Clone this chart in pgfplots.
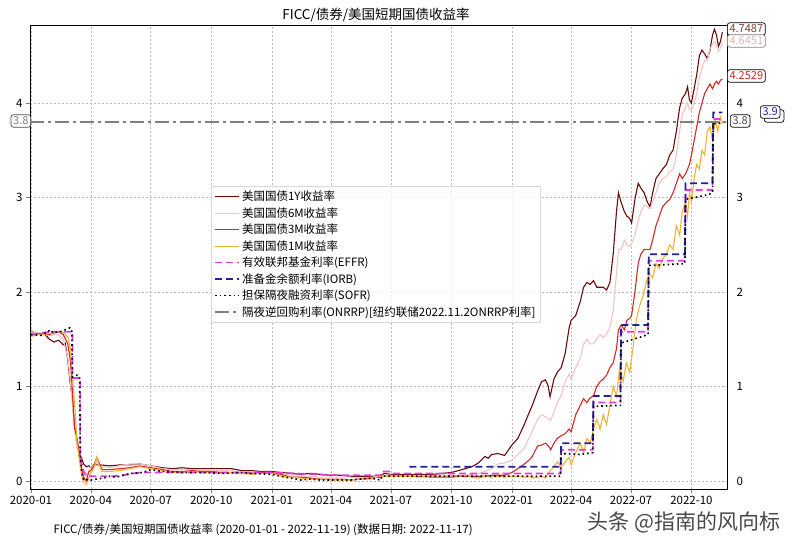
\documentclass[border=0pt]{standalone}
\usepackage{fontspec}
\setmainfont{Noto Sans CJK SC}
\usepackage{pgfplots}
\pgfplotsset{compat=1.18}
\definecolor{c1y}{rgb}{0.42,0.04,0.04}
\definecolor{c6m}{rgb}{0.95,0.77,0.77}
\definecolor{c3m}{rgb}{0.83,0.16,0.16}
\definecolor{c1m}{rgb}{0.95,0.70,0.20}
\definecolor{ceffr}{rgb}{0.88,0.24,0.88}
\definecolor{ciorb}{rgb}{0.13,0.13,0.60}
\definecolor{conrrp}{rgb}{0.50,0.50,0.50}
\begin{document}
\begin{tikzpicture}
\useasboundingbox (0,0) rectangle (795pt,549pt);
\begin{axis}[
 at={(30pt,60pt)}, anchor=south west, width=697pt, height=464pt, scale only axis,
 xmin=-1.5, xmax=1058, ymin=-0.085, ymax=4.825,
 xtick={0,91,182,274,366,456,547,639,731,821,912,1004},
 xticklabels={2020-01,2020-04,2020-07,2020-10,2021-01,2021-04,2021-07,2021-10,2022-01,2022-04,2022-07,2022-10},
 ytick={0,1,2,3,4},
 tick label style={font=\fontsize{11.5}{13}\selectfont},
 /pgf/number format/assume math mode=true,
 grid=major, major grid style={gray!55, dash pattern=on 2pt off 2pt, line width=0.5pt},
 tick align=outside, tick pos=left, major tick length=4pt,
 axis line style={line width=0.9pt},
 legend style={at={(0.2597,0.653)}, anchor=north west, font=\fontsize{11.5}{13}\selectfont,
   draw=gray!30, fill=white, fill opacity=0.8, text opacity=1, row sep=1.2pt, inner sep=3pt},
 legend cell align=left,
 legend image code/.code={\draw[#1] (0pt,0pt) -- (24pt,0pt);},
]
% 1Y
\addplot[c1y, line width=1.1pt] coordinates {
(0,1.59)(7,1.56)(14,1.56)(21,1.55)(28,1.50)(35,1.47)(42,1.49)(49,1.44)(52,1.46)(56,1.28)(59,1.07)(63,0.86)(66,0.60)(70,0.41)(74,0.28)(77,0.24)(80,0.18)(84,0.15)(88,0.16)(91,0.14)(95,0.17)(105,0.17)(120,0.16)(135,0.17)(150,0.17)(165,0.18)(182,0.16)(200,0.14)(215,0.13)(230,0.14)(245,0.13)(260,0.13)(275,0.13)(290,0.13)(305,0.13)(320,0.11)(335,0.11)(350,0.10)(366,0.10)(380,0.09)(395,0.08)(410,0.07)(425,0.08)(440,0.07)(456,0.06)(470,0.06)(486,0.05)(500,0.05)(517,0.05)(530,0.05)(537,0.08)(547,0.07)(560,0.07)(575,0.07)(590,0.07)(610,0.07)(625,0.08)(639,0.09)(650,0.11)(660,0.13)(670,0.15)(680,0.19)(690,0.26)(695,0.24)(700,0.28)(710,0.29)(720,0.27)(731,0.38)(740,0.45)(750,0.60)(757,0.72)(762,0.80)(770,0.95)(776,1.05)(782,1.07)(786,1.01)(789,0.89)(795,1.08)(800,1.15)(806,1.20)(812,1.35)(818,1.62)(821,1.70)(828,1.75)(835,1.90)(840,2.05)(845,2.10)(850,2.08)(855,2.12)(860,2.05)(865,2.05)(870,2.05)(875,2.02)(880,2.10)(885,2.40)(890,2.85)(893,3.05)(897,2.95)(902,2.85)(906,2.80)(910,2.78)(913,2.73)(918,2.98)(923,3.15)(927,3.10)(932,3.05)(937,2.95)(941,2.90)(945,3.05)(950,3.20)(955,3.25)(960,3.30)(966,3.35)(971,3.45)(976,3.50)(981,3.70)(986,3.95)(990,4.05)(995,4.10)(998,4.17)(1001,4.03)(1004,4.00)(1008,4.15)(1012,4.30)(1016,4.50)(1020,4.56)(1024,4.52)(1028,4.47)(1032,4.55)(1036,4.72)(1039,4.78)(1042,4.72)(1045,4.60)(1048,4.65)(1051,4.7487)};
\addlegendentry{美国国债1Y收益率}
% 6M
\addplot[c6m, line width=1.1pt] coordinates {
(0,1.58)(14,1.56)(28,1.54)(42,1.55)(49,1.50)(56,1.30)(60,1.05)(63,0.80)(66,0.55)(70,0.35)(74,0.28)(77,0.15)(80,0.07)(84,0.05)(88,0.10)(91,0.15)(95,0.16)(100,0.20)(105,0.16)(120,0.14)(135,0.16)(150,0.18)(165,0.18)(182,0.16)(200,0.13)(215,0.12)(230,0.12)(245,0.12)(260,0.11)(275,0.11)(290,0.11)(305,0.11)(320,0.09)(335,0.09)(350,0.09)(366,0.09)(380,0.08)(395,0.06)(410,0.04)(425,0.05)(440,0.04)(456,0.04)(470,0.04)(486,0.04)(500,0.03)(517,0.04)(530,0.05)(537,0.06)(547,0.06)(560,0.05)(575,0.05)(590,0.05)(610,0.05)(625,0.05)(639,0.05)(650,0.06)(660,0.06)(670,0.07)(680,0.08)(690,0.10)(700,0.13)(710,0.18)(720,0.19)(731,0.22)(740,0.28)(750,0.35)(757,0.45)(762,0.53)(770,0.65)(776,0.70)(782,0.68)(788,0.65)(790,0.64)(795,0.73)(800,0.83)(806,0.90)(812,1.05)(818,1.13)(821,1.08)(828,1.20)(835,1.30)(840,1.45)(845,1.50)(850,1.45)(855,1.45)(860,1.50)(865,1.55)(870,1.52)(875,1.55)(880,1.63)(885,1.80)(890,2.20)(893,2.45)(897,2.45)(902,2.55)(906,2.50)(910,2.48)(913,2.51)(918,2.60)(923,2.75)(927,2.85)(932,2.92)(937,2.90)(941,2.88)(945,2.95)(950,3.05)(955,3.15)(960,3.20)(966,3.22)(971,3.28)(976,3.30)(981,3.45)(986,3.70)(990,3.88)(995,3.95)(998,4.00)(1001,3.93)(1004,3.92)(1008,4.00)(1012,4.10)(1016,4.27)(1020,4.37)(1024,4.45)(1028,4.45)(1032,4.57)(1036,4.62)(1039,4.65)(1042,4.60)(1045,4.55)(1048,4.58)(1051,4.6451)};
\addlegendentry{美国国债6M收益率}
% 3M
\addplot[c3m, line width=1.1pt] coordinates {
(0,1.54)(14,1.56)(28,1.55)(42,1.58)(49,1.55)(56,1.45)(60,1.27)(63,0.95)(66,0.57)(70,0.45)(74,0.28)(77,0.12)(80,0.04)(84,0.00)(88,0.10)(91,0.11)(95,0.15)(100,0.25)(103,0.20)(108,0.12)(120,0.12)(135,0.13)(150,0.14)(165,0.16)(182,0.14)(200,0.12)(215,0.10)(230,0.10)(245,0.11)(260,0.10)(275,0.10)(290,0.09)(305,0.09)(320,0.08)(335,0.08)(350,0.09)(366,0.09)(380,0.07)(395,0.04)(410,0.04)(425,0.03)(440,0.02)(456,0.02)(470,0.02)(486,0.01)(500,0.02)(517,0.03)(530,0.04)(537,0.05)(547,0.05)(560,0.05)(575,0.05)(590,0.05)(610,0.04)(625,0.04)(639,0.04)(650,0.05)(660,0.05)(670,0.05)(680,0.05)(690,0.05)(700,0.06)(710,0.06)(720,0.06)(731,0.09)(740,0.13)(750,0.18)(757,0.22)(762,0.26)(770,0.37)(776,0.38)(782,0.40)(788,0.36)(790,0.33)(795,0.40)(800,0.45)(806,0.48)(812,0.50)(818,0.55)(821,0.52)(828,0.70)(835,0.80)(840,0.87)(845,0.83)(850,0.88)(855,0.90)(860,1.00)(865,1.05)(870,1.08)(875,1.12)(880,1.20)(885,1.25)(890,1.40)(893,1.60)(897,1.65)(902,1.60)(906,1.70)(910,1.72)(913,1.75)(918,2.00)(923,2.30)(927,2.40)(932,2.45)(937,2.45)(941,2.45)(945,2.55)(950,2.70)(955,2.80)(960,2.90)(966,2.95)(971,2.98)(976,3.05)(981,3.15)(986,3.25)(990,3.20)(995,3.25)(998,3.30)(1001,3.35)(1004,3.45)(1008,3.60)(1012,3.75)(1016,3.90)(1020,4.00)(1024,4.10)(1028,4.15)(1032,4.20)(1036,4.15)(1039,4.20)(1042,4.23)(1045,4.20)(1048,4.24)(1051,4.2529)};
\addlegendentry{美国国债3M收益率}
% 1M
\addplot[c1m, line width=1.1pt] coordinates {
(0,1.53)(14,1.55)(28,1.56)(42,1.58)(49,1.57)(56,1.52)(60,1.40)(63,1.10)(66,0.85)(70,0.40)(74,0.20)(77,0.05)(80,0.00)(84,-0.04)(88,0.03)(91,0.09)(95,0.12)(100,0.25)(103,0.18)(108,0.10)(120,0.10)(135,0.11)(150,0.13)(165,0.15)(182,0.13)(200,0.11)(215,0.09)(230,0.09)(245,0.10)(260,0.09)(275,0.09)(290,0.08)(305,0.09)(320,0.08)(335,0.07)(350,0.08)(366,0.08)(380,0.05)(395,0.04)(410,0.03)(425,0.02)(440,0.02)(456,0.01)(470,0.01)(486,0.01)(500,0.02)(517,0.02)(530,0.05)(537,0.05)(547,0.05)(560,0.05)(575,0.05)(590,0.04)(610,0.06)(625,0.05)(639,0.06)(650,0.05)(660,0.06)(670,0.04)(680,0.03)(690,0.05)(700,0.04)(710,0.05)(720,0.04)(731,0.05)(740,0.05)(750,0.04)(757,0.05)(762,0.03)(770,0.04)(776,0.05)(782,0.03)(788,0.10)(795,0.15)(800,0.20)(806,0.15)(812,0.20)(818,0.25)(821,0.17)(828,0.30)(835,0.40)(840,0.30)(845,0.45)(850,0.40)(855,0.55)(860,0.65)(865,0.55)(870,0.70)(875,0.60)(880,0.80)(885,1.00)(890,0.90)(895,1.20)(900,1.05)(905,1.25)(910,1.15)(915,1.40)(920,1.70)(925,1.85)(930,1.95)(935,2.10)(940,2.20)(945,2.15)(950,2.30)(955,2.25)(960,2.35)(966,2.40)(971,2.50)(976,2.45)(981,2.70)(986,2.60)(990,2.85)(995,2.95)(998,2.80)(1001,3.05)(1004,2.95)(1008,3.20)(1012,3.35)(1016,3.30)(1020,3.50)(1024,3.45)(1028,3.70)(1032,3.75)(1036,3.60)(1040,3.82)(1044,3.70)(1048,3.85)(1051,3.78)};
\addlegendentry{美国国债1M收益率}
% EFFR
\addplot[ceffr, line width=1.8pt, dash pattern=on 7pt off 4pt] coordinates {
(0,1.55)(31,1.58)(63,1.58)(63,1.09)(75,1.09)(75,0.25)(80,0.10)(85,0.05)(110,0.05)(125,0.05)(140,0.06)(155,0.08)(170,0.09)(250,0.09)(300,0.09)(366,0.09)(400,0.08)(430,0.07)(470,0.06)(532,0.06)(533,0.10)(545,0.10)(547,0.08)(805,0.08)(806,0.33)(854,0.33)(855,0.83)(896,0.83)(897,1.58)(938,1.58)(939,2.33)(994,2.33)(995,3.08)(1036,3.08)(1037,3.83)(1051,3.83)};
\addlegendentry{有效联邦基金利率(EFFR)}
% IORB
\addplot[ciorb, line width=1.8pt, dash pattern=on 7pt off 4pt] coordinates {
(575,0.15)(805,0.15)(806,0.40)(854,0.40)(855,0.90)(896,0.90)(897,1.65)(938,1.65)(939,2.40)(994,2.40)(995,3.15)(1036,3.15)(1037,3.90)(1051,3.90)};
\addlegendentry{准备金余额利率(IORB)}
% SOFR
\addplot[black, line width=1.6pt, dash pattern=on 1.6pt off 3pt] coordinates {
(0,1.55)(15,1.54)(30,1.60)(33,1.57)(45,1.58)(59,1.62)(62,1.60)(63,1.10)(70,1.12)(74,1.10)(75,0.26)(77,0.10)(80,0.01)(84,0.01)(88,0.02)(91,0.01)(100,0.02)(110,0.03)(120,0.05)(130,0.04)(140,0.06)(152,0.08)(170,0.09)(182,0.12)(200,0.10)(230,0.09)(260,0.09)(290,0.08)(320,0.09)(335,0.08)(366,0.07)(380,0.05)(395,0.03)(410,0.01)(425,0.02)(440,0.01)(456,0.01)(470,0.01)(486,0.01)(500,0.02)(517,0.03)(532,0.01)(533,0.05)(600,0.05)(700,0.05)(805,0.05)(806,0.29)(835,0.28)(854,0.30)(855,0.79)(896,0.80)(897,1.46)(925,1.52)(938,1.55)(939,2.28)(994,2.30)(995,2.98)(1030,3.03)(1036,3.05)(1037,3.78)(1051,3.79)};
\addlegendentry{担保隔夜融资利率(SOFR)}
% ONRRP
\addplot[conrrp, line width=1.3pt, dash pattern=on 14pt off 4pt on 3pt off 4pt] coordinates {(-1.5,3.8)(1058,3.8)};
\addlegendentry{隔夜逆回购利率(ONRRP)[纽约联储2022.11.2ONRRP利率]}
\end{axis}
% right-hand tick labels
\begin{axis}[
 at={(30pt,60pt)}, anchor=south west, width=697pt, height=464pt, scale only axis,
 xmin=-1.5, xmax=1058, ymin=-0.085, ymax=4.825,
 axis x line=none, axis y line*=right, y axis line style={draw=none},
 ytick={0,1,2,3,4}, major tick length=0pt,
 yticklabel style={xshift=6pt, font=\fontsize{11.5}{13}\selectfont},
 /pgf/number format/assume math mode=true,
]
\addplot[draw=none] coordinates {(0,0)(1,1)};
\end{axis}
% title, caption, watermark
\node[font=\fontsize{13.5}{15}\selectfont] at (376pt,534pt) {FICC/债券/美国短期国债收益率};
\node[anchor=west, font=\fontsize{11.5}{13}\selectfont] at (50pt,19pt) {FICC/债券/美国短期国债收益率 (2020-01-01 - 2022-11-19) (数据日期: 2022-11-17)};
\node[anchor=west, font=\fontsize{21}{23}\selectfont, text=black!72] at (584pt,27pt) {头条 @指南的风向标};
% value boxes
\tikzset{vbox/.style={draw=black, rounded corners=2.5pt, fill=white, line width=0.7pt, inner sep=2.2pt, font=\fontsize{11}{12}\selectfont}}
\node[vbox, anchor=west, text=c1y!80] at (727pt,520pt) {4.7487};
\node[vbox, anchor=west, text=c6m!80!gray, draw=gray] at (727pt,508pt) {4.6451};
\node[vbox, anchor=west, text=c3m] at (727pt,473pt) {4.2529};
\node[vbox, anchor=west, text=black!70] at (730pt,428pt) {3.8};
\node[vbox, anchor=west, text=ciorb, fill=white] at (764pt,433pt) {\phantom{3.9}};
\node[vbox, anchor=west, text=ciorb] at (760pt,437pt) {3.9};
\node[vbox, anchor=east, text=gray, draw=black!70] at (31pt,428pt) {3.8};
\end{tikzpicture}
\end{document}
